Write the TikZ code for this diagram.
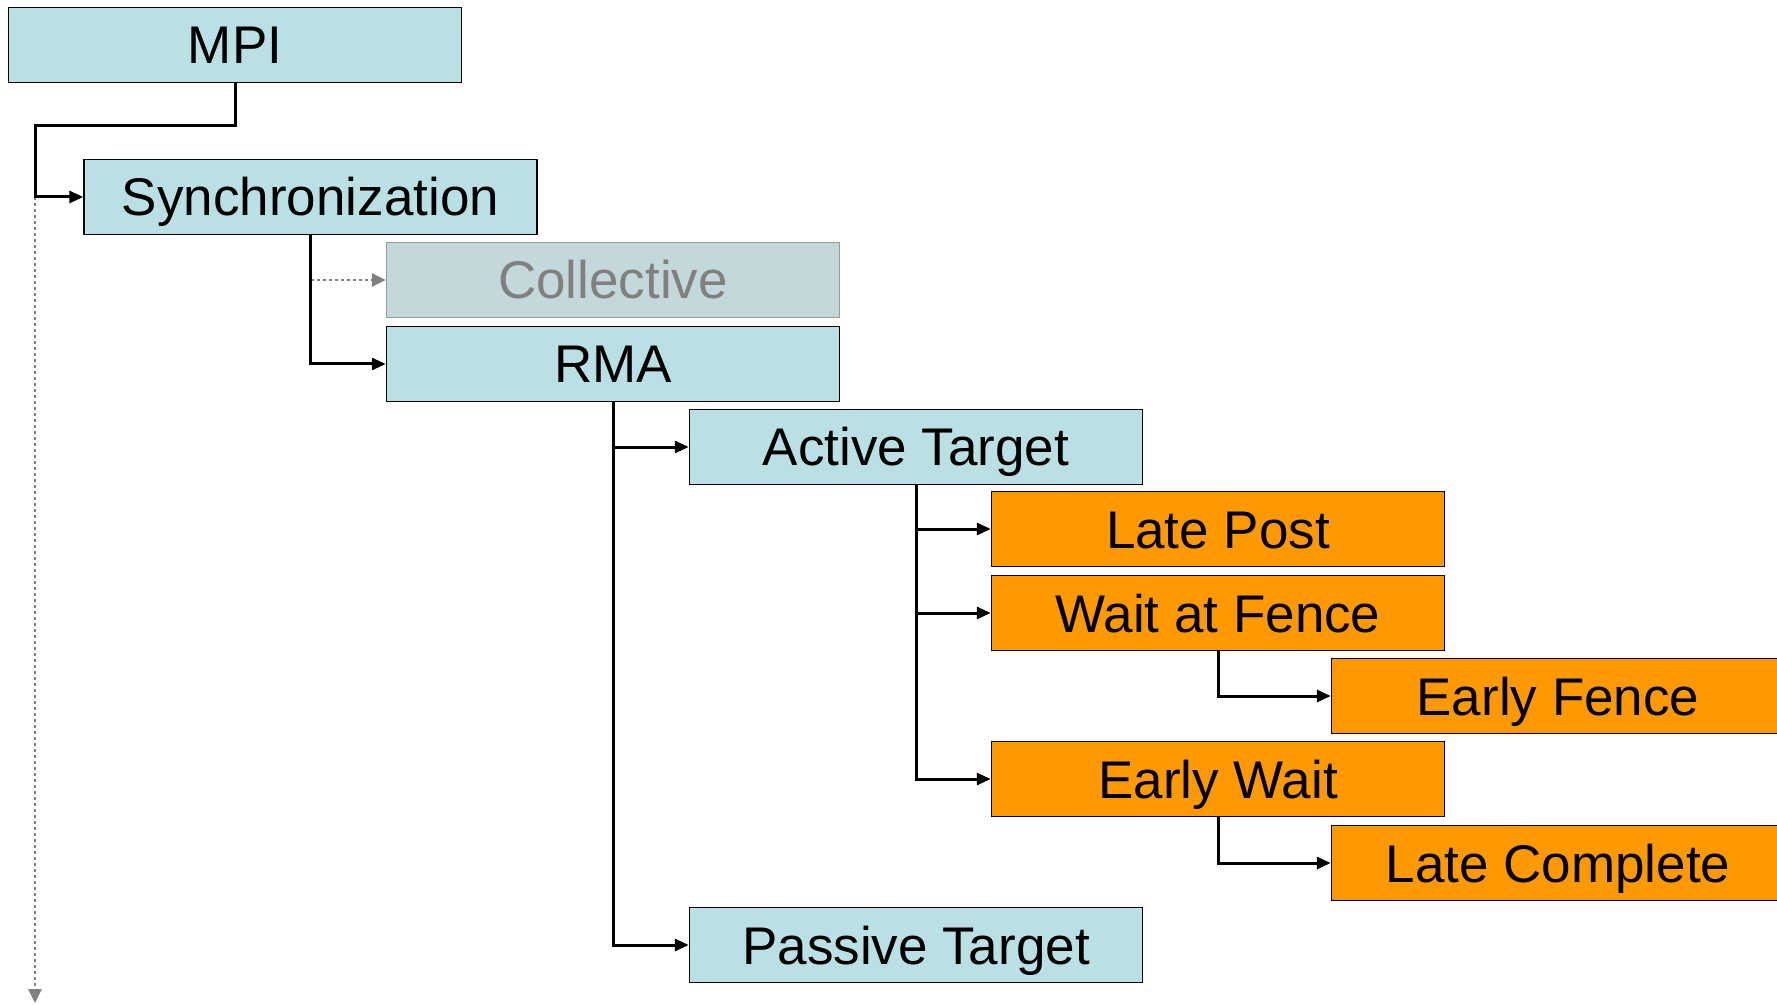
\documentclass[tikz,border=0pt]{standalone}
\usepackage{fontspec}
\setmainfont{Liberation Sans}
\usetikzlibrary{arrows.meta}

\definecolor{boxcyan}{RGB}{186,224,227}
\definecolor{boxgray}{RGB}{196,215,218}
\definecolor{boxorange}{RGB}{255,153,0}
\definecolor{dotgray}{RGB}{128,128,128}

\begin{document}
\begin{tikzpicture}[x=0.5pt,y=0.5pt,yscale=-1,xscale=1,
  box/.style={draw=black, line width=0.75pt, minimum width=226.5pt, minimum height=37.5pt,
    inner sep=0pt, text height=19pt, text depth=0pt, font=\fontsize{26.5}{30}\selectfont},
  cyanbox/.style={box, fill=boxcyan},
  orangebox/.style={box, fill=boxorange},
  greybox/.style={box, fill=boxgray, draw=dotgray!80, text=dotgray},
  link/.style={line width=1.5pt, -{Triangle[length=7pt,width=6pt]}},
  faint/.style={line width=1.3pt, draw=dotgray, dash pattern={on 1.5pt off 1.5pt},
    -{Triangle[length=7pt,width=6.5pt,fill=dotgray]}}]
\clip (0,0) rectangle (1777,1005);

% Text Node
\node [cyanbox] (mpi) at (235,45) {MPI};
% Text Node
\node [cyanbox] (sync) at (310.5,197) {Synchronization};
% Text Node
\node [greybox] (coll) at (613,280) {Collective};
% Text Node
\node [cyanbox] (rma) at (613,364) {RMA};
% Text Node
\node [cyanbox] (active) at (916,447) {Active Target};
% Text Node
\node [orangebox] (latepost) at (1218,529) {Late Post};
% Text Node
\node [orangebox] (waitfence) at (1218,613) {Wait at Fence};
% Text Node
\node [orangebox] (earlyfence) at (1558,696) {Early Fence};
% Text Node
\node [orangebox] (earlywait) at (1218,779) {Early Wait};
% Text Node
\node [orangebox] (latecompl) at (1558,863) {Late Complete};
% Text Node
\node [cyanbox] (passive) at (916,945) {Passive Target};

\coordinate (trunk) at (35,126);
\coordinate (trunkend) at (35,1003);

%Straight Lines
\draw [faint] (trunk |- sync.west) -- (trunkend);
\draw [link] (mpi.south) |- (trunk) |- (sync.west);
%Straight Lines
\draw [faint] (sync.south |- coll.west) -- (coll.west);
\draw [link] (sync.south) |- (rma.west);
%Straight Lines
\draw [link] (rma.south) |- (active.west);
\draw [link] (rma.south) |- (passive.west);
%Straight Lines
\draw [link] (active.south) |- (latepost.west);
\draw [link] (active.south) |- (waitfence.west);
\draw [link] (active.south) |- (earlywait.west);
%Straight Lines
\draw [link] (waitfence.south) |- (earlyfence.west);
\draw [link] (earlywait.south) |- (latecompl.west);

\end{tikzpicture}
\end{document}
